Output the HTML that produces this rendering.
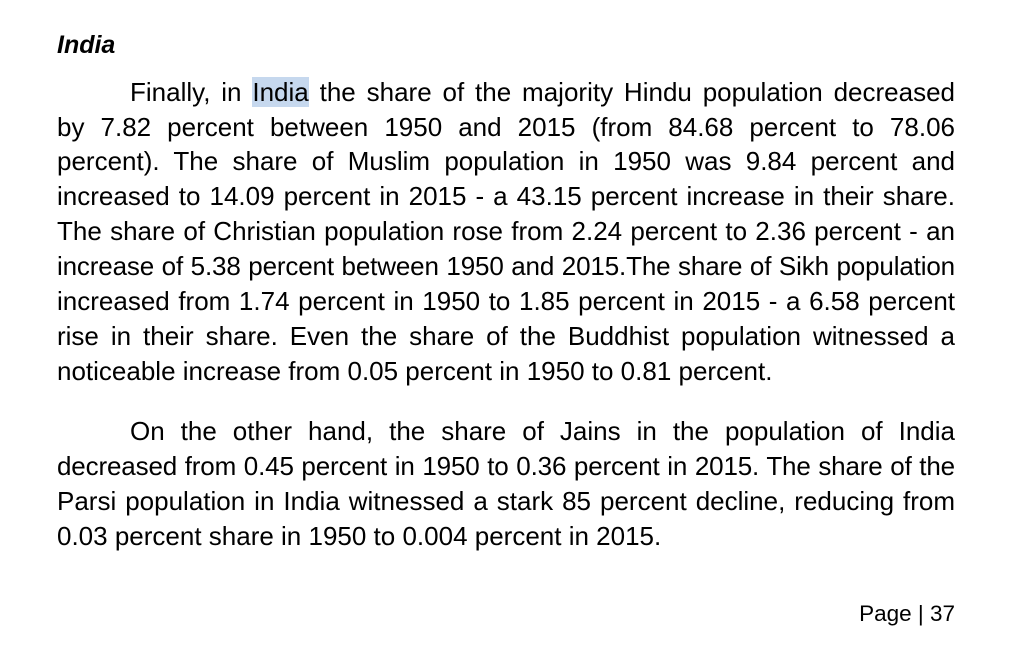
<!DOCTYPE html>
<html><head><meta charset="utf-8"><style>
html,body{margin:0;padding:0;background:#fff;width:1024px;height:652px;overflow:hidden}
body{font-family:"Liberation Sans",Arial,sans-serif;color:#000;position:relative}
.l{position:absolute;left:57px;width:898px;height:35px;line-height:35px;font-size:26px;text-align:justify;text-align-last:justify;white-space:nowrap;overflow:visible}
.i{left:130px;width:825px}
.last{text-align-last:left}
.t{letter-spacing:-0.15px}
.hl{background:#c6d8ee}
</style></head><body>
<div style="position:absolute;left:57px;top:31px;font-size:25px;font-weight:bold;font-style:italic;line-height:28px">India</div>
<div class="l i" style="top:75px">Finally, in <span class="hl">India</span> the share of the majority Hindu population decreased</div>
<div class="l" style="top:110px">by 7.82 percent between 1950 and 2015 (from 84.68 percent to 78.06</div>
<div class="l" style="top:144px">percent). The share of Muslim population in 1950 was 9.84 percent and</div>
<div class="l" style="top:179px">increased to 14.09 percent in 2015 - a 43.15 percent increase in their share.</div>
<div class="l" style="top:214px">The share of Christian population rose from 2.24 percent to 2.36 percent - an</div>
<div class="l t" style="top:249px">increase of 5.38 percent between 1950 and 2015.The share of Sikh population</div>
<div class="l" style="top:284px">increased from 1.74 percent in 1950 to 1.85 percent in 2015 - a 6.58 percent</div>
<div class="l" style="top:319px">rise in their share. Even the share of the Buddhist population witnessed a</div>
<div class="l last" style="top:354px">noticeable increase from 0.05 percent in 1950 to 0.81 percent.</div>
<div class="l i" style="top:414px">On the other hand, the share of Jains in the population of India</div>
<div class="l t" style="top:449px">decreased from 0.45 percent in 1950 to 0.36 percent in 2015. The share of the</div>
<div class="l" style="top:484px">Parsi population in India witnessed a stark 85 percent decline, reducing from</div>
<div class="l last" style="top:519px">0.03 percent share in 1950 to 0.004 percent in 2015.</div>
<div style="position:absolute;right:69px;top:601px;font-size:22.5px;line-height:26px">Page | 37</div>
</body></html>
